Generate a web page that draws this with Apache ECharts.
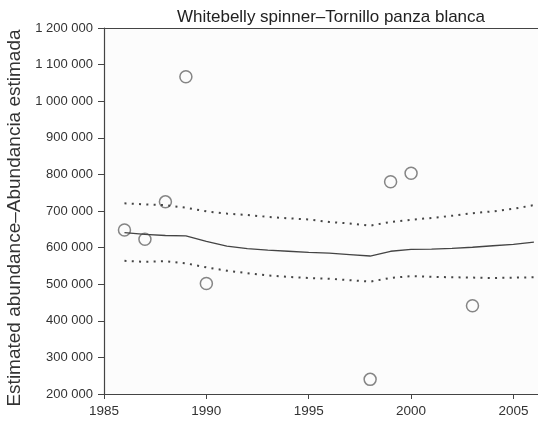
<!doctype html>
<html>
<head>
<meta charset="utf-8">
<script src="https://cdn.jsdelivr.net/npm/echarts@6/dist/echarts.min.js"></script>
<style>
  html, body { margin: 0; height: 100%; background: #fff; }
  #chart { width: 538px; height: 423px; }
</style>
</head>
<body>
<div id="chart"></div>
<script>
// observed estimates
const obsYears = [1986, 1987, 1988, 1989, 1990, 1998, 1999, 2000, 2003];
const obsValues = [648000, 623000, 725000, 1067000, 502000, 240000, 780000, 803000, 441000];

// smoothed trend and its interval
const trendYears = [1986, 1987, 1988, 1989, 1990, 1991, 1992, 1993, 1994, 1995, 1996,
                    1997, 1998, 1999, 2000, 2001, 2002, 2003, 2004, 2005, 2006];
const trend = [641000, 636000, 633000, 632000, 617000, 604000, 597000, 593000, 590000, 587000, 585000,
               581000, 577000, 590000, 595000, 596000, 598000, 601000, 605000, 609000, 615000];
const upper = [721000, 718000, 716000, 709000, 699000, 693000, 689000, 684000, 680000, 677000, 670000,
               666000, 660000, 670000, 676000, 681000, 687000, 694000, 699000, 706000, 716000];
const lower = [564000, 561000, 563000, 557000, 546000, 537000, 530000, 524000, 520000, 517000, 515000,
               511000, 507000, 517000, 522000, 520000, 519000, 518000, 517000, 518000, 519000];

const pairs = (xs, ys) => xs.map((x, i) => [x, ys[i]]);
const fmt = v => String(v).replace(/\B(?=(\d{3})+(?!\d))/g, ' ');

const textColor = '#333';
const lineColor = '#444';
const font = 'Liberation Sans, Arial, sans-serif';

const chart = echarts.init(document.getElementById('chart'));
chart.setOption({
  backgroundColor: '#fff',
  animation: false,
  title: {
    text: 'Whitebelly spinner\u2013Tornillo panza blanca',
    left: 326, top: 4, textAlign: 'center',
    textStyle: { fontFamily: font, fontSize: 17, fontWeight: 'normal', color: '#222' }
  },
  grid: {
    left: 104, right: 0, top: 28, bottom: 29, outerBoundsMode: 'none', containLabel: false,
    show: true, backgroundColor: '#fcfcfc', borderWidth: 0
  },
  xAxis: [{
    type: 'value', min: 1985, max: 2006.2, interval: 5,
    axisLine: { lineStyle: { color: lineColor, width: 1.2 } },
    axisTick: { length: 5, lineStyle: { color: lineColor } },
    axisLabel: {
      showMaxLabel: false, margin: 10,
      fontFamily: font, fontSize: 13.5, color: textColor,
      formatter: v => (v % 5 === 0 ? String(v) : '')
    },
    splitLine: { show: false }
  }, {
    type: 'value', position: 'top', min: 1985, max: 2006.2,
    axisLine: { show: true, lineStyle: { color: lineColor, width: 1.2 } },
    axisTick: { show: false }, axisLabel: { show: false }, splitLine: { show: false }
  }],
  yAxis: {
    type: 'value', min: 200000, max: 1200000, interval: 100000,
    name: 'Estimated abundance\u2013Abundancia estimada',
    nameLocation: 'middle', nameGap: 80,
    nameTextStyle: { fontFamily: font, fontSize: 19, color: textColor, padding: [0, 14, 0, 0] },
    axisLine: { show: true, lineStyle: { color: lineColor, width: 1.2 } },
    axisTick: { show: true, length: 6, lineStyle: { color: lineColor } },
    axisLabel: { margin: 11, fontFamily: font, fontSize: 13, color: textColor, formatter: fmt },
    splitLine: { show: false }
  },
  series: [
    {
      type: 'line', data: pairs(trendYears, trend), showSymbol: false,
      lineStyle: { color: lineColor, width: 1.3 }
    },
    {
      type: 'line', data: pairs(trendYears, upper), showSymbol: false,
      lineStyle: { color: lineColor, width: 2, type: [2, 5.3] }
    },
    {
      type: 'line', data: pairs(trendYears, lower), showSymbol: false,
      lineStyle: { color: lineColor, width: 2, type: [2, 5.3] }
    },
    {
      type: 'scatter', data: pairs(obsYears, obsValues),
      symbol: 'circle', symbolSize: 12,
      itemStyle: { color: 'rgba(255,255,255,0)', borderColor: '#666', borderWidth: 1.5 }
    }
  ]
});
</script>
</body>
</html>
